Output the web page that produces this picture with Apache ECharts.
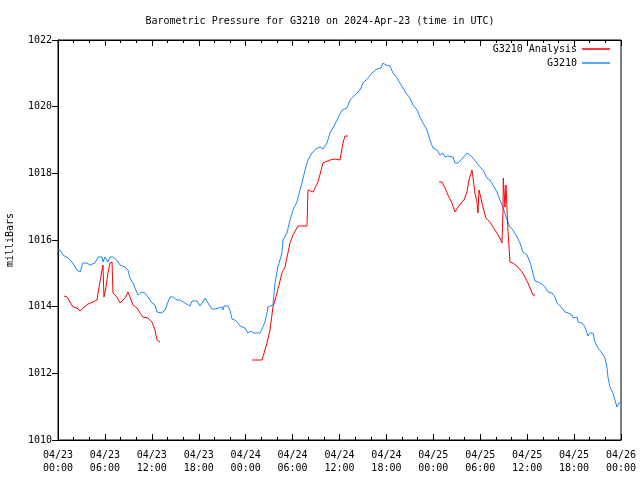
<!DOCTYPE html>
<html><head><meta charset="utf-8">
<script src="https://cdn.jsdelivr.net/npm/echarts@6/dist/echarts.min.js"></script>
<style>html,body{margin:0;padding:0;background:#fff}#c{width:640px;height:480px}</style>
</head><body><div id="c"></div>
<script>
// hours after 2024-04-23 00:00 UTC, pressure in mb
const g3210 = [[0,1015.70],[0.26,1015.70],[0.64,1015.55],[1.28,1015.46],[1.79,1015.34],[2.43,1015.10],[2.81,1015.04],[3.20,1015.31],[3.71,1015.31],[4.09,1015.25],[4.73,1015.31],[5.12,1015.49],[5.63,1015.49],[5.75,1015.34],[6.01,1015.49],[6.39,1015.34],[6.65,1015.49],[7.03,1015.49],[7.54,1015.40],[7.93,1015.25],[8.57,1015.19],[8.95,1015.10],[9.21,1014.86],[9.59,1014.71],[9.85,1014.56],[10.23,1014.35],[10.74,1014.44],[11.13,1014.41],[11.51,1014.29],[12.02,1014.11],[12.40,1014.05],[12.66,1013.84],[13.30,1013.81],[13.68,1013.90],[14.07,1014.14],[14.32,1014.29],[14.71,1014.29],[15.22,1014.20],[15.60,1014.20],[16.24,1014.11],[16.88,1014.02],[17.14,1014.17],[17.39,1014.11],[17.77,1014.17],[18.16,1014.02],[18.54,1014.14],[18.80,1014.26],[19.05,1014.32],[19.18,1014.11],[19.44,1014.02],[19.69,1013.93],[20.08,1013.93],[20.33,1013.99],[20.97,1013.99],[21.10,1013.90],[21.23,1014.02],[21.74,1014.02],[21.99,1013.90],[22.25,1013.63],[22.63,1013.60],[23.02,1013.51],[23.27,1013.42],[23.91,1013.36],[24.30,1013.21],[24.68,1013.27],[24.94,1013.21],[25.83,1013.21],[26.21,1013.39],[26.47,1013.54],[26.73,1013.81],[26.85,1013.99],[27.49,1014.05],[27.75,1014.71],[28.13,1015.19],[28.64,1015.61],[28.77,1016.00],[29.28,1016.21],[29.67,1016.60],[30.05,1016.90],[30.56,1017.14],[30.95,1017.50],[31.20,1017.71],[31.59,1018.10],[31.97,1018.40],[32.48,1018.61],[32.99,1018.73],[33.50,1018.79],[33.89,1018.73],[34.40,1018.91],[34.78,1019.21],[35.17,1019.36],[35.68,1019.60],[36.32,1019.90],[36.96,1019.96],[37.34,1020.20],[38.24,1020.41],[38.62,1020.50],[39.00,1020.71],[39.64,1020.86],[40.15,1021.01],[40.79,1021.13],[41.30,1021.16],[41.56,1021.31],[41.94,1021.25],[42.46,1021.22],[42.84,1021.01],[43.35,1020.86],[43.73,1020.71],[44.12,1020.56],[44.50,1020.41],[45.01,1020.26],[45.40,1020.05],[45.91,1019.90],[46.29,1019.69],[46.68,1019.51],[47.19,1019.30],[47.57,1019.00],[47.95,1018.76],[48.47,1018.70],[48.85,1018.55],[49.23,1018.61],[49.49,1018.49],[49.87,1018.52],[50.51,1018.49],[50.77,1018.31],[51.15,1018.31],[51.66,1018.43],[52.30,1018.61],[52.69,1018.55],[53.07,1018.46],[53.58,1018.31],[53.96,1018.19],[54.35,1018.10],[54.86,1017.86],[55.24,1017.80],[55.63,1017.65],[56.14,1017.44],[56.52,1017.20],[56.91,1016.99],[57.29,1016.69],[57.80,1016.39],[58.18,1016.30],[58.70,1016.09],[59.08,1015.91],[59.46,1015.64],[59.97,1015.55],[60.36,1015.34],[60.74,1015.01],[61.00,1014.77],[61.38,1014.74],[61.89,1014.68],[62.28,1014.59],[62.66,1014.44],[63.17,1014.41],[63.55,1014.29],[63.81,1014.11],[63.94,1014.14],[64.45,1013.96],[64.83,1013.84],[65.22,1013.81],[65.73,1013.75],[65.86,1013.66],[66.37,1013.69],[66.50,1013.54],[67.01,1013.51],[67.39,1013.39],[67.65,1013.21],[67.77,1013.12],[68.03,1013.21],[68.41,1013.21],[68.67,1012.94],[69.05,1012.76],[69.57,1012.61],[69.95,1012.46],[70.20,1012.19],[70.33,1011.89],[70.59,1011.59],[70.97,1011.41],[71.23,1011.20],[71.48,1010.99],[71.74,1011.11],[72.0,1011.11]];

const analysisA = [[0.77,1014.32],[1.15,1014.29],[1.53,1014.14],[1.92,1013.99],[2.43,1013.96],[2.81,1013.87],[3.20,1013.96],[3.84,1014.08],[4.48,1014.14],[4.99,1014.20],[5.12,1014.41],[5.37,1014.74],[5.63,1015.10],[5.75,1015.25],[5.88,1014.29],[6.14,1014.59],[6.39,1015.01],[6.65,1015.31],[6.91,1015.34],[7.03,1014.41],[7.54,1014.29],[7.93,1014.11],[8.18,1014.11],[8.57,1014.26],[8.95,1014.44],[9.21,1014.29],[9.59,1014.05],[10.10,1013.96],[10.49,1013.81],[10.87,1013.69],[11.51,1013.66],[12.02,1013.54],[12.40,1013.30],[12.66,1013.00],[13.04,1012.94]];

const analysisB = [[24.81,1012.40],[26.09,1012.40],[26.73,1012.91],[27.11,1013.30],[27.49,1013.99],[28.01,1014.41],[28.64,1015.01],[29.03,1015.19],[29.67,1015.91],[30.05,1016.15],[30.69,1016.42],[31.84,1016.42],[31.97,1017.50],[32.61,1017.44],[33.25,1017.74],[33.89,1018.31],[34.78,1018.40],[35.42,1018.43],[36.06,1018.40],[36.45,1018.91],[36.70,1019.12],[37.08,1019.12]];

const analysisC = [[48.72,1017.74],[49.10,1017.74],[49.49,1017.56],[49.87,1017.35],[50.38,1017.11],[50.77,1016.84],[51.15,1016.99],[51.66,1017.14],[51.92,1017.20],[52.30,1017.44],[52.56,1017.80],[52.94,1018.10],[53.07,1017.89],[53.32,1017.41],[53.58,1017.14],[53.71,1016.81],[53.84,1017.50],[54.09,1017.50],[54.35,1016.99],[54.73,1016.66],[55.24,1016.54],[55.63,1016.39],[56.14,1016.21],[56.52,1016.06],[56.78,1015.91],[56.91,1016.90],[56.95,1017.86],[57.16,1016.99],[57.29,1017.65],[57.54,1016.30],[57.80,1015.34],[58.18,1015.31],[58.82,1015.19],[59.34,1015.04],[59.72,1014.89],[60.10,1014.71],[60.49,1014.50],[60.74,1014.35],[61.00,1014.35]];

const dayLabels = ['04/23','04/24','04/25','04/26'];
const hourLabels = ['00:00','06:00','12:00','18:00'];
const yTicks = [1010,1012,1014,1016,1018,1020,1022];

const FONT = 'DejaVu Sans Mono';
const RED = '#ff0000', BLUE = '#1e87ff';

function fmtX(v){
  const d = Math.floor(v/24), h = Math.round((v%24)/6);
  return dayLabels[d] + '\n' + hourLabels[h];
}
function fmtY(v){ return String(Math.round(v)); }

const chart = echarts.init(document.getElementById('c'), null, {renderer:'canvas'});
const analysisData = analysisA.concat([[18,'-']], analysisB, [[43,'-']], analysisC);

chart.setOption({
  animation:false,
  backgroundColor:'#fff',
  textStyle:{fontFamily:FONT},
  title:{text:'Barometric Pressure for G3210 on 2024-Apr-23 (time in UTC)',left:'center',top:11,
    textStyle:{fontFamily:FONT,fontSize:10,fontWeight:'normal',color:'#000'}},
  legend:{orient:'vertical',right:25,top:39,align:'right',itemGap:4,itemWidth:28,itemHeight:1.5,icon:'rect',
    textStyle:{fontFamily:FONT,fontSize:10,color:'#000'},
    data:['G3210 Analysis','G3210']},
  grid:{left:58,right:19,top:40,bottom:40,containLabel:false,outerBoundsMode:'none',show:true,borderColor:'#000',borderWidth:1,backgroundColor:'transparent'},
  xAxis:[{type:'value',min:0,max:72,interval:6,position:'bottom',
    axisLine:{lineStyle:{color:'#000',width:1}},
    axisTick:{inside:true,length:6,lineStyle:{color:'#000'}},
    minorTick:{show:true,splitNumber:3,length:3,lineStyle:{color:'#000'}},
    splitLine:{show:false},
    axisLabel:{formatter:fmtX,fontFamily:FONT,fontSize:10,color:'#000',margin:9,lineHeight:13}},
   {type:'value',min:0,max:72,interval:6,position:'top',
    axisLine:{lineStyle:{color:'#000',width:1}},
    axisTick:{inside:true,length:6,lineStyle:{color:'#000'}},
    minorTick:{show:true,splitNumber:3,length:3,lineStyle:{color:'#000'}},
    splitLine:{show:false},axisLabel:{show:false}}],
  yAxis:[{type:'value',min:yTicks[0],max:yTicks[yTicks.length-1],interval:2,position:'left',
    name:'milliBars',nameLocation:'middle',nameGap:43,nameRotate:90,
    nameTextStyle:{fontFamily:FONT,fontSize:10,color:'#000'},
    axisLine:{show:true,lineStyle:{color:'#000',width:1}},
    axisTick:{show:true,inside:false,length:6,lineStyle:{color:'#000'}},
    splitLine:{show:false},
    axisLabel:{formatter:fmtY,fontFamily:FONT,fontSize:10,color:'#000',margin:6}},
   {type:'value',min:yTicks[0],max:yTicks[yTicks.length-1],interval:2,position:'right',
    axisLine:{show:true,lineStyle:{color:'#000',width:1}},
    axisTick:{show:true,inside:true,length:5,lineStyle:{color:'#000'}},
    splitLine:{show:false},axisLabel:{show:false}}],
  series:[
    {name:'G3210 Analysis',type:'line',data:analysisData,showSymbol:false,symbol:'none',connectNulls:false,
     color:RED,lineStyle:{color:RED,width:1},z:3},
    {name:'G3210',type:'line',data:g3210,showSymbol:false,symbol:'none',
     color:BLUE,lineStyle:{color:BLUE,width:1},z:2}
  ]
});
</script></body></html>
